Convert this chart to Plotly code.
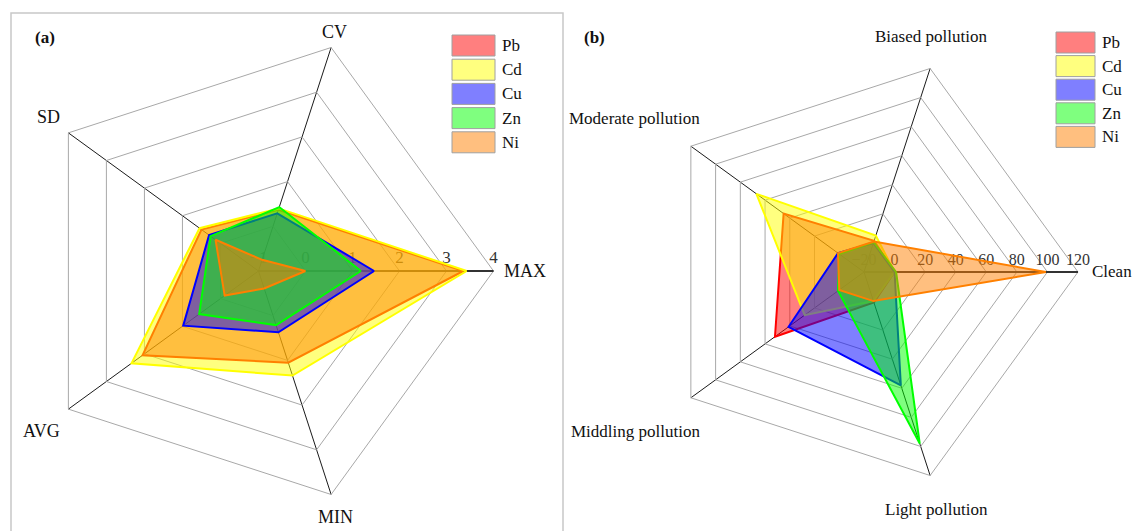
import plotly.graph_objects as go

# Axis categories for both radar panels
stat_axes = ["MAX", "CV", "SD", "AVG", "MIN"]
grade_axes = ["Clean", "Biased pollution", "Moderate pollution",
              "Middling pollution", "Light pollution"]
metals = ["Pb", "Cd", "Cu", "Zn", "Ni"]

# (a) statistical indices per metal (log-scaled values)
pb_stats = [3.36, 0.37, 0.50, 2.05, 1.05]
cd_stats = [3.43, 0.40, 0.55, 2.34, 1.34]
cu_stats = [1.46, 0.29, 0.30, 0.98, 0.37]
zn_stats = [1.18, 0.43, 0.26, 0.56, 0.21]
ni_stats = [0.00, -0.75, 0.13, -0.11, -0.61]

# (b) share of samples in each pollution grade (%)
pb_grades = [0, 1.5, 45, 52, 1]
cd_grades = [0, 5, 67, 28, 0]
cu_grades = [0, 0, 1, 41, 58]
zn_grades = [1, 0.5, 0, 1, 98]
ni_grades = [99, 1, 1, 0, 0]

stat_ticks = [-1, 0, 1, 2, 3, 4]
grade_ticks = [-20, 0, 20, 40, 60, 80, 100, 120]

line_colors = {
    "Pb": (255, 0, 0),
    "Cd": (255, 255, 0),
    "Cu": (0, 0, 255),
    "Zn": (0, 255, 0),
    "Ni": (255, 128, 0),
}

W, H = 1132, 531
SERIF = "Liberation Serif"


def closed(values):
    return list(values) + [values[0]]


def px(x):
    return x / W


def py(y):
    return 1 - y / H


fig = go.Figure()

panels = [
    ("polar", stat_axes,
     dict(zip(metals, [pb_stats, cd_stats, cu_stats, zn_stats, ni_stats]))),
    ("polar2", grade_axes,
     dict(zip(metals, [pb_grades, cd_grades, cu_grades, zn_grades, ni_grades]))),
]

for subplot, cats, series in panels:
    for metal in metals:
        r, g, b = line_colors[metal]
        fig.add_trace(go.Scatterpolar(
            r=closed(series[metal]),
            theta=closed(cats),
            mode="lines",
            fill="toself",
            fillcolor=f"rgba({r},{g},{b},0.5)",
            line=dict(color=f"rgb({r},{g},{b})", width=2),
            name=metal,
            subplot=subplot,
            showlegend=False,
        ))


def polar_layout(cx, cy, rad, cats, rng, ticks, tick_size):
    # centre and radius given in pixels from the top-left corner
    return dict(
        domain=dict(x=[px(cx - rad), px(cx + rad)],
                    y=[py(cy + rad), py(cy - rad)]),
        gridshape="linear",
        bgcolor="white",
        angularaxis=dict(
            type="category",
            categoryorder="array",
            categoryarray=cats,
            direction="counterclockwise",
            rotation=0,
            showgrid=True,
            gridcolor="#1a1a1a",
            gridwidth=1.2,
            showline=True,
            linecolor="#a8a8a8",
            linewidth=1,
            ticks="",
            showticklabels=False,
            layer="below traces",
        ),
        radialaxis=dict(
            range=rng,
            tickvals=ticks,
            angle=0,
            side="counterclockwise",
            showline=True,
            linecolor="#333333",
            linewidth=2,
            gridcolor="#a8a8a8",
            gridwidth=1,
            ticks="",
            tickfont=dict(family=SERIF, size=tick_size, color="#333333"),
            layer="below traces",
        ),
    )


annotations = []
shapes = [
    # frame around panel (a)
    dict(type="rect", xref="paper", yref="paper",
         x0=px(11), x1=px(563), y0=-0.2, y1=py(13),
         line=dict(color="#c8c8c8", width=1.5), layer="below"),
]


def label(text, x, y, anchor="center", size=18, bold=False):
    annotations.append(dict(
        text=f"<b>{text}</b>" if bold else text,
        x=px(x), y=py(y), xref="paper", yref="paper",
        xanchor=anchor, yanchor="middle", showarrow=False,
        font=dict(family=SERIF, size=size, color="#111111"),
    ))


# panel tags
label("(a)", 33, 37, "left", 17, True)
label("(b)", 582, 37, "left", 17, True)

# category labels around the two radars
stat_label_pos = {
    "MAX": (502, 271, "left"),
    "CV": (334, 32, "center"),
    "SD": (48, 117, "center"),
    "AVG": (41, 431, "center"),
    "MIN": (335, 517, "center"),
}
grade_label_pos = {
    "Clean": (1090, 271, "left"),
    "Biased pollution": (931, 36, "center"),
    "Moderate pollution": (702, 118, "right"),
    "Middling pollution": (702, 431, "right"),
    "Light pollution": (936, 509, "center"),
}
for cat in stat_axes:
    x, y, a = stat_label_pos[cat]
    label(cat, x, y, a, 18)
for cat in grade_axes:
    x, y, a = grade_label_pos[cat]
    label(cat, x, y, a, 17)

# legend blocks: swatch boxes with metal names
legend_blocks = [(452, 495, 35, 24.2), (1056, 1095, 32, 23.6)]
for x0, x1, top, step in legend_blocks:
    for i, metal in enumerate(metals):
        r, g, b = line_colors[metal]
        y0 = top + i * step
        shapes.append(dict(
            type="rect", xref="paper", yref="paper",
            x0=px(x0), x1=px(x1), y0=py(y0 + 21), y1=py(y0),
            fillcolor=f"rgba({r},{g},{b},0.5)",
            line=dict(color="#a0a0a0", width=1),
        ))
        label(metal, x1 + 5, y0 + 10.5, "left", 17)

fig.update_layout(
    width=W, height=H,
    margin=dict(l=0, r=0, t=0, b=0),
    paper_bgcolor="white",
    font=dict(family=SERIF, color="#111111"),
    showlegend=False,
    polar=polar_layout(258.5, 271, 235, stat_axes, [-1, 4], stat_ticks, 17),
    polar2=polar_layout(864, 272, 214, grade_axes, [-20, 120], grade_ticks, 16),
    shapes=shapes,
    annotations=annotations,
)

fig.write_html("out.html")
